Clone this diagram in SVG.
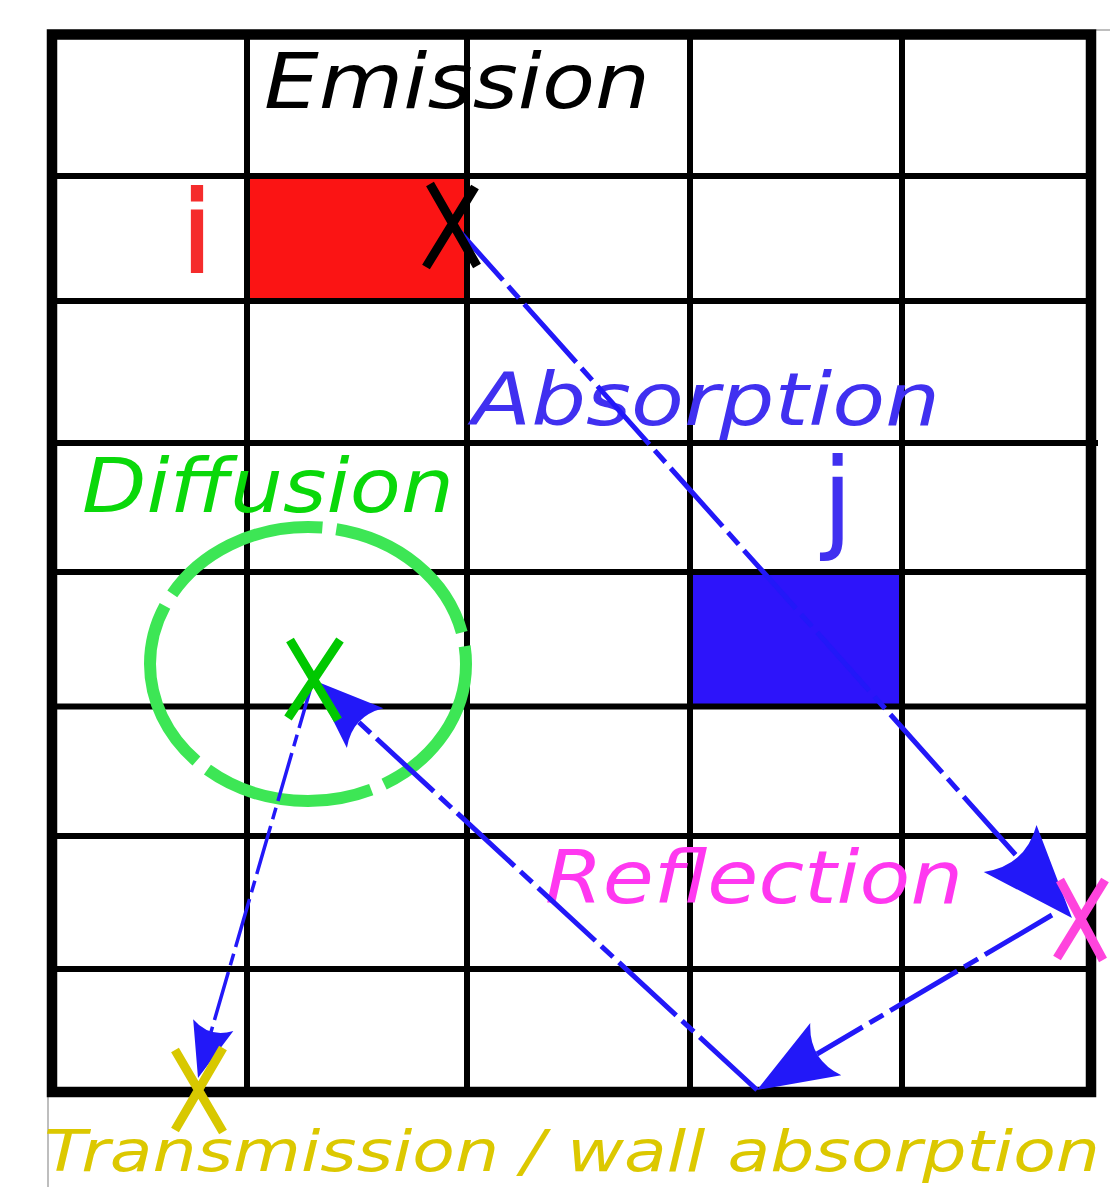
<svg xmlns="http://www.w3.org/2000/svg" xmlns:xlink="http://www.w3.org/1999/xlink" width="1110" height="1187" viewBox="0 0 1110 1187">
<style>
.grid{fill:none;stroke:#000;stroke-width:6}
.border{fill:none;stroke:#000;stroke-width:10.5}
.edge{fill:none;stroke:#a8a8a8;stroke-width:1.5}
.lbl{font-family:"DejaVu Sans","Liberation Sans",sans-serif;font-style:italic}
.up{font-family:"DejaVu Sans","Liberation Sans",sans-serif}
.ray{fill:none;stroke:#2218f8;stroke-width:5;stroke-dasharray:78 8 16 8}
.thin{stroke-width:3.5;stroke-dasharray:50 7 12 7}
.head{fill:#2218f8;stroke:none}
.xm{fill:none;stroke-width:9}
</style>
<defs>
<path id="ah" d="M0,0 L-100,-38 Q-75,0 -100,38 Z"/>
</defs>
<rect width="1110" height="1187" fill="#fff"/>
<line class="edge" x1="1096" y1="30" x2="1110" y2="30"/>
<line class="edge" x1="48" y1="1097" x2="48" y2="1187"/>

<g id="cell-i"><rect x="247" y="176" width="220" height="125" fill="#fb1414"/></g>
<g id="cell-j"><rect x="690" y="572" width="212" height="134.5" fill="#2d14fa"/></g>

<g id="grid">
<path class="grid" d="M247,34.5V1092M467,34.5V1092M690,34.5V1092M902,34.5V1092M52,176H1091M52,301H1091M52,443H1098M52,572H1091M52,706.5H1091M52,836H1091M52,969H1091"/>
<rect class="border" x="52" y="34.5" width="1039" height="1057.5"/>
</g>

<g id="diffusion-zone">
<ellipse cx="308" cy="664" rx="158" ry="137" fill="none" stroke="#3de655" stroke-width="12" stroke-dasharray="171.6 14" stroke-dashoffset="18.3"/>
</g>

<g id="labels">
<text class="lbl" x="264" y="108" font-size="76" textLength="386" lengthAdjust="spacingAndGlyphs" fill="#000">Emission</text>
<text class="up" x="197" y="273" font-size="116" font-weight="bold" text-anchor="middle" fill="#f52c2c" textLength="24" lengthAdjust="spacingAndGlyphs">i</text>
<text class="lbl" x="472" y="425" font-size="73" textLength="468" lengthAdjust="spacingAndGlyphs" fill="#4030f0">Absorption</text>
<text class="up" x="822" y="538" font-size="112" fill="#4030f0">j</text>
<text class="lbl" x="82" y="512" font-size="74" textLength="372" lengthAdjust="spacingAndGlyphs" fill="#0ad80a">Diffusion</text>
<text class="lbl" x="545" y="903" font-size="73" textLength="418" lengthAdjust="spacingAndGlyphs" fill="#ff38f0">Reflection</text>
<text class="lbl" x="44" y="1171" font-size="57" textLength="1056" lengthAdjust="spacingAndGlyphs" fill="#dcc800">Transmission / wall absorption</text>
</g>

<g id="connectors">
<line class="ray" x1="451" y1="222" x2="1018" y2="857.5"/>
<use xlink:href="#ah" href="#ah" class="head" transform="translate(1072,918) rotate(48.3) scale(0.93)"/>
<line class="ray" x1="1052" y1="915" x2="817" y2="1054"/>
<use xlink:href="#ah" href="#ah" class="head" transform="translate(757,1090) rotate(149.3) scale(0.8)"/>
<line class="ray" x1="757" y1="1090" x2="358.6" y2="722"/>
<use xlink:href="#ah" href="#ah" class="head" transform="translate(313,680) rotate(-137.3) scale(0.71)"/>
<line class="ray thin" x1="313" y1="680" x2="211" y2="1032"/>
<use xlink:href="#ah" href="#ah" class="head" transform="translate(198,1078) rotate(106.1) scale(0.55)"/>
</g>

<g id="mark-emission">
<path class="xm" stroke="#000" d="M430,184L477,266M475,187L426,267"/>
</g>
<g id="mark-diffusion">
<path class="xm" stroke="#00c800" stroke-width="7" d="M290,640L338,720M340,640L288,718"/>
</g>
<g id="mark-reflection">
<path class="xm" stroke="#ff44dd" d="M1060,880L1103,960M1105,880L1057,958"/>
</g>
<g id="mark-transmission">
<path class="xm" stroke="#d8c800" d="M175,1050L223,1132M223,1048L175,1130"/>
</g>
</svg>
